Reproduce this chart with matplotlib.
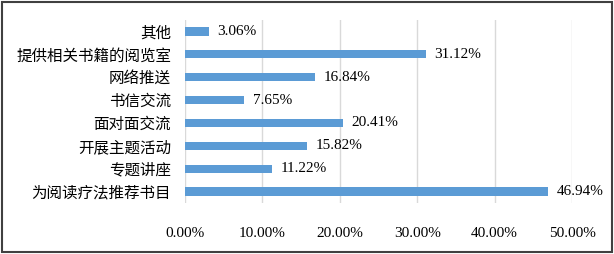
import matplotlib
matplotlib.use("Agg")
import matplotlib.pyplot as plt
from matplotlib.patches import Rectangle
from matplotlib.ticker import FuncFormatter

categories = ["为阅读疗法推荐书目", "专题讲座", "开展主题活动", "面对面交流",
              "书信交流", "网络推送", "提供相关书籍的阅览室", "其他"]
values = [46.94, 11.22, 15.82, 20.41, 7.65, 16.84, 31.12, 3.06]
xticks = [0, 10, 20, 30, 40, 50]

fam = ["Liberation Serif", "Noto Sans CJK SC"]
plt.rcParams["font.family"] = fam

fig = plt.figure(figsize=(6.14, 2.54), dpi=100)
ax = fig.add_axes([185/614, 1-203/254, (572-185)/614, (203-20)/254])

y = list(range(len(categories)))
ax.barh(y, values, height=0.36, color="#5B9BD5", zorder=3)
for yi, v in zip(y, values):
    ax.text(v + 1.1, yi, f"{v:.2f}%", va="center", ha="left", fontsize=11,
            color="#000000")

ax.set_ylim(-0.5, len(categories) - 0.5)
ax.set_xlim(0, 50)
ax.set_xticks(xticks)
ax.xaxis.set_major_formatter(FuncFormatter(lambda x, p: f"{x:.2f}%"))
ax.set_yticks(y)
ax.set_yticklabels(categories, fontsize=11.2)
ax.tick_params(axis="both", length=0, colors="#000000")
ax.tick_params(axis="x", pad=17, labelsize=11)
ax.tick_params(axis="y", pad=10)
ax.grid(axis="x", color="#D9D9D9", linewidth=1, zorder=0)
for s in ax.spines.values():
    s.set_visible(False)

fig.patches.append(Rectangle((0.004, 0.006), 0.992, 0.988, transform=fig.transFigure,
                             fill=False, edgecolor="#404040", linewidth=1.5))
fig.savefig("out.png", dpi=100)
